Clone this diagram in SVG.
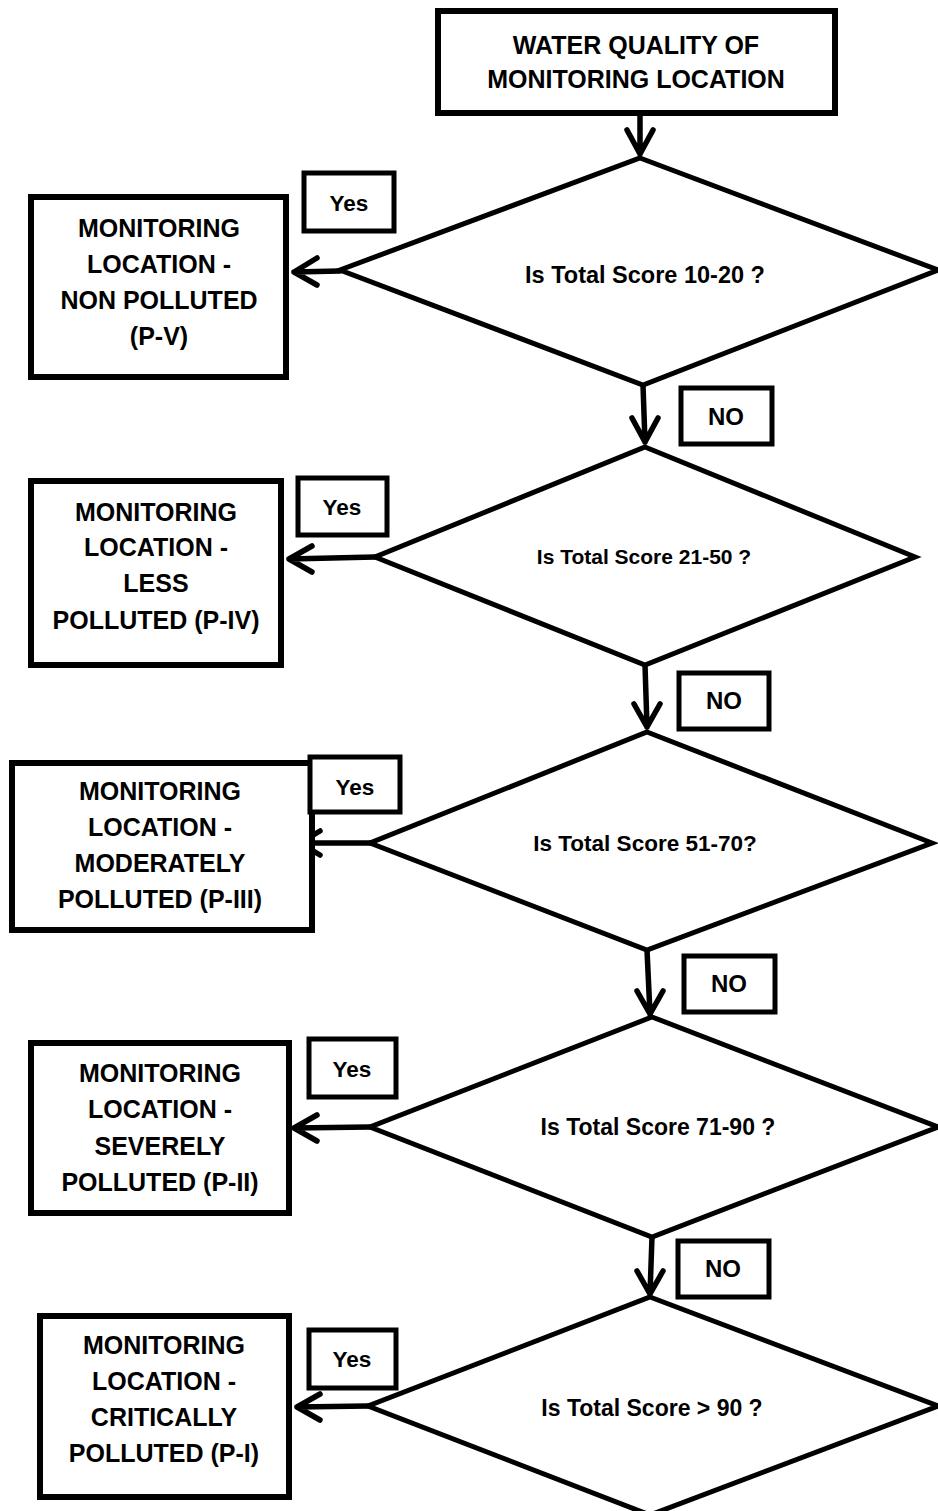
<svg xmlns="http://www.w3.org/2000/svg" width="938" height="1511" viewBox="0 0 938 1511">
<style>
.box{fill:#fff;stroke:#000;stroke-width:6}
.lbl{fill:#fff;stroke:#000;stroke-width:5}
.dia{fill:#fff;stroke:#000;stroke-width:5;stroke-linejoin:miter}
.ln{fill:none;stroke:#000;stroke-width:5.5;stroke-linecap:round;stroke-linejoin:round}
text{font-family:"Liberation Sans",Arial,sans-serif;font-weight:bold;fill:#000;text-anchor:middle}
.t{font-size:25px}
.q{font-size:22px}
.y{font-size:22.5px}
.n{font-size:24px}
</style>
<rect width="938" height="1511" fill="#fff"/>
<g id="connectors">
  <path class="ln" d="M640 116 L640 154 M627 130 L640 154 L653 130"/>
  <path class="ln" d="M643 385 L645 442 M632 418 L645 442 L658 418"/>
  <path class="ln" d="M645 665 L647 727 M634 704 L647 727 L660 704"/>
  <path class="ln" d="M647 950 L650 1014 M637 991 L650 1014 L663 991"/>
  <path class="ln" d="M652 1237 L650 1294 M637 1271 L650 1294 L663 1271"/>
  <path class="ln" d="M340 271 L294 272 M317 258 L294 272 L317 285"/>
  <path class="ln" d="M375 557 L289 559 M312 546 L289 559 L312 572"/>
  <path class="ln" d="M372 843 L300 843 M320 831 L300 843 L320 855"/>
  <path class="ln" d="M370 1127 L294 1128 M317 1115 L294 1128 L317 1141"/>
  <path class="ln" d="M368 1406 L297 1407 M320 1394 L297 1407 L320 1420"/>
</g>
<g id="start">
  <rect class="box" x="438" y="11" width="397" height="102"/>
  <text class="t" x="636" y="54">WATER QUALITY OF</text>
  <text class="t" x="636" y="88">MONITORING LOCATION</text>
</g>
<g id="q1">
  <polygon class="dia" points="640,158 938,270 643,385 340,270"/>
  <text class="q" x="645" y="283" style="font-size:23.5px">Is Total Score 10-20 ?</text>
</g>
<g id="q2">
  <polygon class="dia" points="645,447 915,557 645,665 375,557"/>
  <text class="q" x="644" y="564" style="font-size:21px">Is Total Score 21-50 ?</text>
</g>
<g id="q3">
  <polygon class="dia" points="647,732 932,843 647,950 370,843"/>
  <text class="q" x="645" y="851" style="font-size:22.5px">Is Total Score 51-70?</text>
</g>
<g id="q4">
  <polygon class="dia" points="652,1017 938,1127 652,1237 370,1127"/>
  <text class="q" x="658" y="1135" style="font-size:23px">Is Total Score 71-90 ?</text>
</g>
<g id="q5">
  <polygon class="dia" points="650,1297 938,1406 650,1515 368,1406"/>
  <text class="q" x="652" y="1416" style="font-size:23px">Is Total Score &gt; 90 ?</text>
</g>
<g id="r1">
  <rect class="box" x="31" y="197" width="255" height="180"/>
  <text class="t" x="159" y="237">MONITORING</text>
  <text class="t" x="159" y="273">LOCATION -</text>
  <text class="t" x="159" y="309">NON POLLUTED</text>
  <text class="t" x="159" y="345">(P-V)</text>
</g>
<g id="r2">
  <rect class="box" x="31" y="481" width="250" height="184"/>
  <text class="t" x="156" y="521">MONITORING</text>
  <text class="t" x="156" y="556">LOCATION -</text>
  <text class="t" x="156" y="592">LESS</text>
  <text class="t" x="156" y="629">POLLUTED (P-IV)</text>
</g>
<g id="r3">
  <rect class="box" x="12" y="763" width="300" height="167"/>
  <text class="t" x="160" y="800">MONITORING</text>
  <text class="t" x="160" y="836">LOCATION -</text>
  <text class="t" x="160" y="872">MODERATELY</text>
  <text class="t" x="160" y="908">POLLUTED (P-III)</text>
</g>
<g id="r4">
  <rect class="box" x="31" y="1043" width="258" height="170"/>
  <text class="t" x="160" y="1082">MONITORING</text>
  <text class="t" x="160" y="1118">LOCATION -</text>
  <text class="t" x="160" y="1155">SEVERELY</text>
  <text class="t" x="160" y="1191">POLLUTED (P-II)</text>
</g>
<g id="r5">
  <rect class="box" x="40" y="1316" width="249" height="181"/>
  <text class="t" x="164" y="1354">MONITORING</text>
  <text class="t" x="164" y="1390">LOCATION -</text>
  <text class="t" x="164" y="1426">CRITICALLY</text>
  <text class="t" x="164" y="1462">POLLUTED (P-I)</text>
</g>
<g id="yes1"><rect class="lbl" x="304" y="173" width="90" height="58"/><text class="y" x="349" y="211">Yes</text></g>
<g id="yes2"><rect class="lbl" x="298" y="478" width="89" height="57"/><text class="y" x="342" y="515">Yes</text></g>
<g id="yes3"><rect class="lbl" x="310" y="757" width="90" height="55"/><text class="y" x="355" y="795">Yes</text></g>
<g id="yes4"><rect class="lbl" x="309" y="1039" width="87" height="58"/><text class="y" x="352" y="1077">Yes</text></g>
<g id="yes5"><rect class="lbl" x="309" y="1330" width="87" height="58"/><text class="y" x="352" y="1367">Yes</text></g>
<g id="no1"><rect class="lbl" x="681" y="388" width="91" height="56"/><text class="n" x="726" y="425">NO</text></g>
<g id="no2"><rect class="lbl" x="679" y="673" width="90" height="56"/><text class="n" x="724" y="709">NO</text></g>
<g id="no3"><rect class="lbl" x="684" y="956" width="91" height="56"/><text class="n" x="729" y="992">NO</text></g>
<g id="no4"><rect class="lbl" x="678" y="1241" width="91" height="56"/><text class="n" x="723" y="1277">NO</text></g>
</svg>
